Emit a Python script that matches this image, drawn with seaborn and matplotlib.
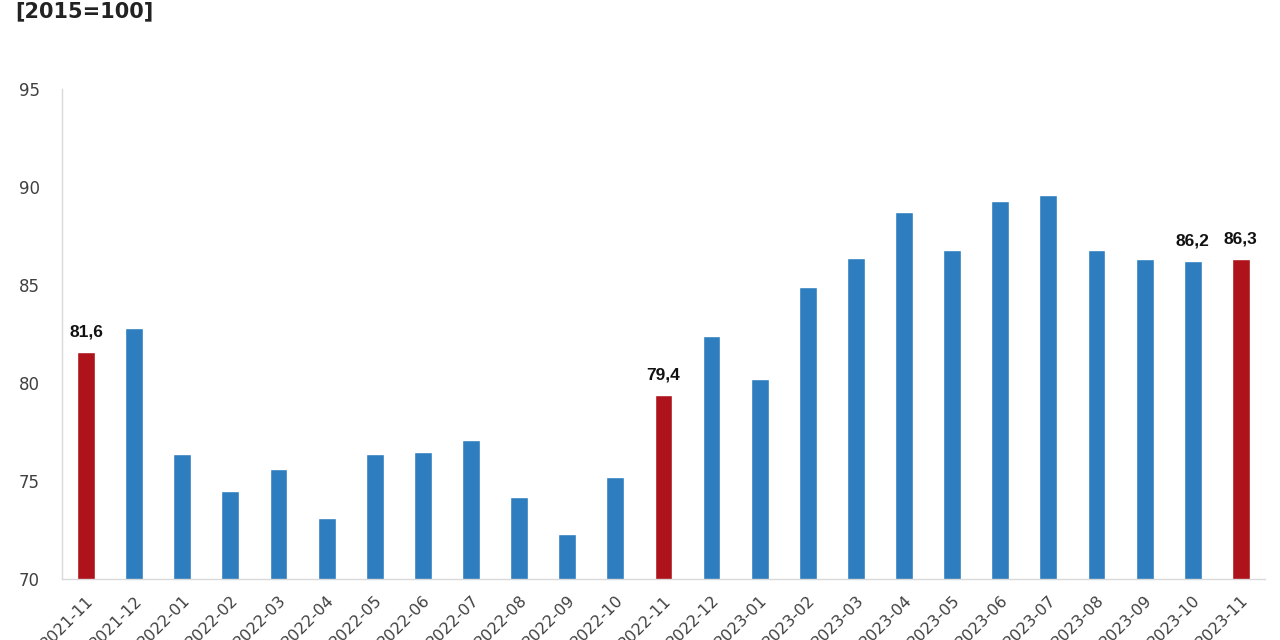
import pandas as pd
import seaborn as sns
import matplotlib.pyplot as plt

# Data
months = ['2021-11', '2021-12', '2022-01', '2022-02', '2022-03', '2022-04',
          '2022-05', '2022-06', '2022-07', '2022-08', '2022-09', '2022-10',
          '2022-11', '2022-12', '2023-01', '2023-02', '2023-03', '2023-04',
          '2023-05', '2023-06', '2023-07', '2023-08', '2023-09', '2023-10',
          '2023-11']
values = [81.6, 82.8, 76.4, 74.5, 75.6, 73.1, 76.4, 76.5, 77.1, 74.2, 72.3,
          75.2, 79.4, 82.4, 80.2, 84.9, 86.4, 88.7, 86.8, 89.3, 89.6, 86.8,
          86.3, 86.2, 86.3]
highlight = ['2021-11', '2022-11', '2023-11']
labelled = ['2021-11', '2022-11', '2023-10', '2023-11']
title = '[2015=100]'

dtf = pd.DataFrame({'Month': months, 'Value': values})

blue = '#2e7ebf'
red = '#ae131b'
palette = [red if m in highlight else blue for m in months]

sns.set_style('white')
fig = plt.figure(figsize=(12.8, 6.4), dpi=100)
ax = fig.add_axes([0.0484, 0.0953, 0.9398, 0.7657])

sns.barplot(data=dtf, x='Month', y='Value', hue='Month', palette=palette,
            width=0.37, legend=False, ax=ax, saturation=1)

ax.set_ylim(70, 95)
ax.set_yticks([70, 75, 80, 85, 90, 95])
ax.set_xlim(-0.5, len(months) - 0.5)
ax.set(xlabel=None, ylabel=None)

# value labels on selected bars
for i, cont in enumerate(ax.containers):
    m = months[i]
    labs = [f'{values[i]:.1f}'.replace('.', ',') if m in labelled else '']
    ax.bar_label(cont, labels=labs, padding=9, fontsize=12.5,
                 fontweight='bold', color='#111111', family='Liberation Sans')

ax.tick_params(axis='y', labelsize=12, labelcolor='#404040', length=0, pad=16)
ax.tick_params(axis='x', labelsize=11.5, labelcolor='#404040', length=0, pad=10)
for lab in ax.get_xticklabels():
    lab.set_rotation(45)
    lab.set_ha('right')
    lab.set_rotation_mode('anchor')

for s in ['top', 'right']:
    ax.spines[s].set_visible(False)
for s in ['left', 'bottom']:
    ax.spines[s].set_color('#d9d9d9')
    ax.spines[s].set_linewidth(1)

fig.text(0.012, 0.998, title, fontsize=15, fontweight='bold',
         color='#222222', va='top', ha='left')

fig.savefig('out.png', dpi=100)
